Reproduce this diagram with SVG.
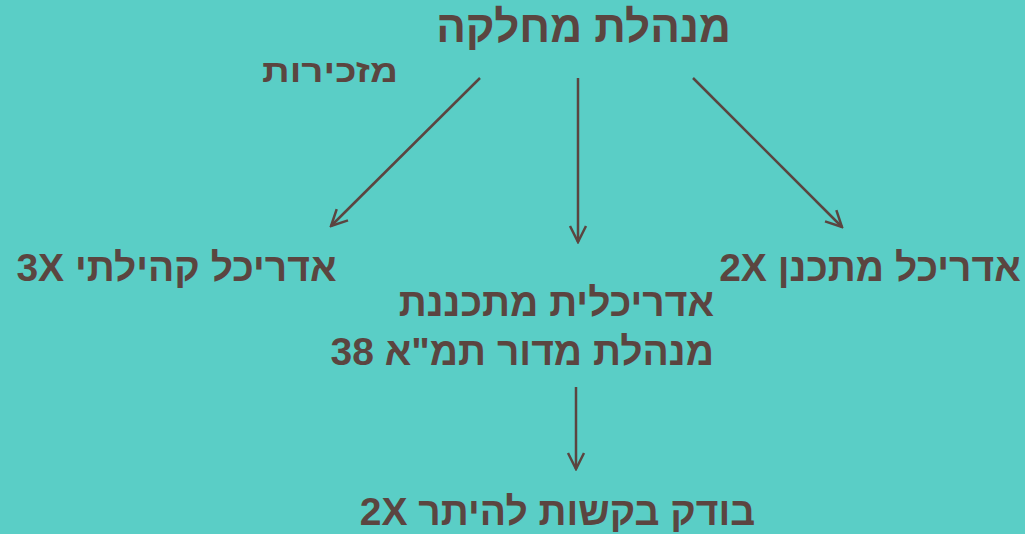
<svg xmlns="http://www.w3.org/2000/svg" width="1025" height="534" viewBox="0 0 1025 534">
<defs>
<style>
.t{font-family:"Liberation Sans",Arial,sans-serif;font-weight:bold;fill:#5b4540;direction:rtl;unicode-bidi:embed}
.c{stroke:#5b4540;stroke-width:2.5;fill:none}
</style>
<marker id="ah" viewBox="0 0 20 20" refX="18" refY="10" markerWidth="20" markerHeight="20" markerUnits="userSpaceOnUse" orient="auto">
<polyline points="2,2 18,10 2,18" fill="none" stroke="#5b4540" stroke-width="2.5" stroke-linejoin="miter"/>
</marker>
</defs>
<rect width="1025" height="534" fill="#5acec6"/>
<g id="connectors">
<line class="c" x1="480" y1="78" x2="331" y2="226" marker-end="url(#ah)"/>
<line class="c" x1="578" y1="78" x2="578" y2="242" marker-end="url(#ah)"/>
<line class="c" x1="693" y1="78" x2="842" y2="227" marker-end="url(#ah)"/>
<line class="c" x1="576" y1="387" x2="576" y2="469" marker-end="url(#ah)"/>
</g>
<g id="manager"><text class="t" x="583.5" y="42" font-size="44" text-anchor="middle">מנהלת מחלקה</text></g>
<g id="secretary"><text class="t" x="330" y="82" font-size="32" text-anchor="middle" textLength="136" lengthAdjust="spacingAndGlyphs">מזכירות</text></g>
<g id="community-architect"><text class="t" x="176.5" y="281" font-size="39" text-anchor="middle">אדריכל קהילתי 3X</text></g>
<g id="planner-architect"><text class="t" x="870" y="281" font-size="39" text-anchor="middle">אדריכל מתכנן 2X</text></g>
<g id="tama-manager">
<text class="t" x="714" y="316" font-size="39" text-anchor="start">אדריכלית מתכננת</text>
<text class="t" x="714" y="365" font-size="39" text-anchor="start">מנהלת מדור תמ"א 38</text>
</g>
<g id="permit-inspector"><text class="t" x="557.5" y="525" font-size="39" text-anchor="middle">בודק בקשות להיתר 2X</text></g>
</svg>
